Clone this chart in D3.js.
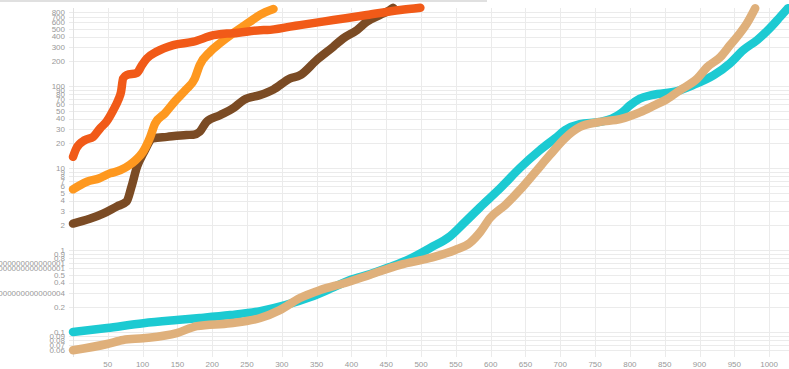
<!DOCTYPE html>
<html>
<head>
<meta charset="utf-8">
<script src="https://cdn.jsdelivr.net/npm/d3@7"></script>
<style>
  html, body { margin: 0; padding: 0; background: #fff; overflow: hidden; }
  svg { display: block; }
  .tick-label { font-family: "Liberation Sans", Arial, sans-serif; font-size: 8px; fill: #999; }
</style>
</head>
<body>
<svg id="chart" width="789" height="369"></svg>
<script>
// Sorted sample values per series: [rank, value]
const seriesRed = [[0,13.7],[5,17.5],[17,21.9],[29,24],[39,30.5],[48,36.7],[58,51],[65,67.5],[69,85],[72,124],[77,136],[92,145],[99,180],[106,217],[120,262],[144,316],[173,347],[202,417],[221,437],[230,440],[269,480],[279,482],[312,530],[326,554],[374,638],[422,734],[470,845],[499,900]];
const seriesOrange = [[0,5.5],[20,6.8],[38,7.5],[53,8.6],[68,9.4],[82,11],[90,12.5],[100,15.5],[111,24],[118,35],[132,46.4],[147,66],[162,90],[175,124],[182,180],[197,262],[211,332],[230,440],[254,608],[268,734],[288,870]];
const seriesBrown = [[0,2.1],[24,2.4],[44,2.8],[63,3.4],[77,3.9],[84,5.9],[92,10.4],[101,15.1],[115,23],[135,24],[163,25.3],[173,25.5],[182,27.7],[192,36.7],[211,44],[230,53.5],[245,67.5],[269,77.7],[288,91],[312,124],[326,135],[350,207],[374,302],[388,380],[408,482],[422,608],[441,734],[455,845],[460,900]];
const seriesCyan = [[0,0.1],[49,0.112],[101,0.128],[149,0.14],[182,0.148],[226,0.161],[269,0.18],[305,0.213],[341,0.267],[369,0.335],[398,0.43],[427,0.51],[455,0.62],[484,0.78],[513,1.06],[542,1.48],[563,2.19],[585,3.34],[614,5.7],[642,10],[671,16.6],[693,23.2],[707,29],[728,34.4],[757,36.5],[774,40],[788,47],[800,58],[814,70],[833,78],[868,87],[891,103],[920,135],[944,190],[963,275],[983,365],[1001,507],[1016,700],[1027,890]];
const seriesTan = [[0,0.06],[49,0.0714],[72,0.08],[101,0.084],[149,0.097],[178,0.118],[226,0.128],[269,0.148],[297,0.185],[326,0.26],[355,0.325],[391,0.396],[427,0.5],[470,0.66],[513,0.8],[549,1],[570,1.22],[585,1.66],[599,2.45],[621,3.54],[642,5.4],[664,8.9],[685,14.4],[707,23.2],[728,31.6],[757,36.5],[786,39.5],[815,48],[836,58.5],[853,69],[872,89],[897,124],[911,170],[930,226],[944,316],[958,440],[968,580],[980,890]];

const xTicks = [50,100,150,200,250,300,350,400,450,500,550,600,650,700,750,800,850,900,950,1000];
const yTickLabels = ["0.06","0.07","0.08","0.09","0.1","0.2","0.30000000000000004","0.4","0.5","0.6000000000000001","0.7000000000000001","0.8","0.9",
  "1","2","3","4","5","6","7","8","9","10","20","30","40","50","60","70","80","90","100","200","300","400","500","600","700","800"];

const colors = { cyan: "#1ccad2", tan: "#dfb07b", brown: "#7b4b24", orange: "#fe981f", red: "#f15a18" };

const svg = d3.select("#chart");
const W = 789, H = 369;
const x = d3.scaleLinear().domain([0, 1030]).range([73, 790]);
const y = d3.scaleLog().domain([0.055, 900]).range([353.3, 7.8]);

// top rule
svg.append("line").attr("x1", 0).attr("x2", 487).attr("y1", 1).attr("y2", 1)
  .attr("stroke", "#d6d6d6").attr("stroke-width", 1.5);

const grid = svg.append("g");
// horizontal grid
grid.selectAll("line.h").data(yTickLabels).join("line").attr("class", "h")
  .attr("x1", 69).attr("x2", W)
  .attr("y1", d => Math.round(y(+d)) + 0.5).attr("y2", d => Math.round(y(+d)) + 0.5)
  .attr("stroke", "#ebebeb").attr("stroke-width", 1);
// vertical grid, including the origin line
grid.selectAll("line.v").data([0].concat(xTicks)).join("line").attr("class", "v")
  .attr("x1", d => Math.round(x(d)) + 0.5).attr("x2", d => Math.round(x(d)) + 0.5)
  .attr("y1", 8).attr("y2", 357)
  .attr("stroke", d => d === 0 ? "#e2e2e2" : "#ebebeb").attr("stroke-width", 1);

// axis labels
svg.append("g").selectAll("text").data(yTickLabels).join("text")
  .attr("class", "tick-label")
  .attr("x", 65).attr("y", d => y(+d))
  .attr("dy", "0.35em").attr("text-anchor", "end")
  .text(d => d);
svg.append("g").selectAll("text").data(xTicks).join("text")
  .attr("class", "tick-label")
  .attr("x", d => x(d)).attr("y", 364)
  .attr("dy", "0.35em").attr("text-anchor", "middle")
  .text(d => d);

const line = d3.line().x(d => x(d[0])).y(d => y(d[1])).curve(d3.curveMonotoneX);
const series = [
  { data: seriesCyan, color: colors.cyan },
  { data: seriesTan, color: colors.tan },
  { data: seriesBrown, color: colors.brown },
  { data: seriesOrange, color: colors.orange },
  { data: seriesRed, color: colors.red }
];
svg.append("g").selectAll("path").data(series).join("path")
  .attr("d", d => line(d.data))
  .attr("fill", "none")
  .attr("stroke", d => d.color)
  .attr("stroke-width", 8.5)
  .attr("stroke-linecap", "round")
  .attr("stroke-linejoin", "round");
</script>
</body>
</html>
